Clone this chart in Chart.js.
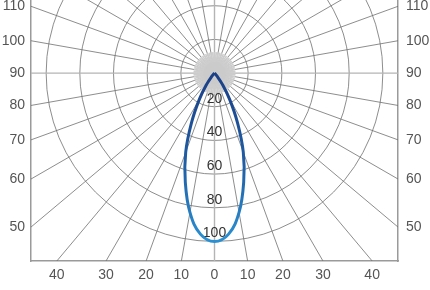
<!DOCTYPE html>
<html>
<head>
<meta charset="utf-8">
<script src="https://cdn.jsdelivr.net/npm/chart.js@4"></script>
<style>
  body { margin: 0; background: #fff; }
</style>
</head>
<body>
<canvas id="chart" width="430" height="290"></canvas>
<script>
// Light distribution (angle from nadir, % intensity)
const angles = [0, 5, 10, 15, 20, 25, 30, 35, 40, 45];
const intensity = [100, 96, 84, 67, 50, 32, 18, 8, 2, 0];

// Axis labels (angles) and ring labels
const bottomLabels = [-40, -30, -20, -10, 0, 10, 20, 30, 40];
const sideLabels = [110, 100, 90, 80, 70, 60, 50];
const ringLabels = [20, 40, 60, 80, 100];

// Plot extents in intensity units
const xMax = 109;
const yTop = 43.4;
const yBottom = -111.6;

const rad = d => d * Math.PI / 180;

// Build the curve: left side from tip down to nadir, then right side back up
const curve = [];
for (let i = angles.length - 1; i > 0; i--) {
    curve.push({ x: -intensity[i] * Math.sin(rad(angles[i])), y: -intensity[i] * Math.cos(rad(angles[i])) });
}
for (let i = 0; i < angles.length; i++) {
    curve.push({ x: intensity[i] * Math.sin(rad(angles[i])), y: -intensity[i] * Math.cos(rad(angles[i])) });
}

// Polar grid drawn behind the curve
const polarGrid = {
    id: 'polarGrid',
    beforeDatasetsDraw(chart) {
        const { ctx, chartArea: a, scales: { x, y } } = chart;
        const cx = x.getPixelForValue(0);
        const cy = y.getPixelForValue(0);
        const k = x.getPixelForValue(100) - cx;
        ctx.save();
        ctx.beginPath();
        ctx.rect(a.left, a.top, a.width, a.height);
        ctx.clip();

        // rings
        ctx.strokeStyle = '#707070';
        ctx.lineWidth = 0.8;
        ringLabels.forEach(r => {
            ctx.beginPath();
            ctx.arc(cx, cy, r / 100 * k, 0, 2 * Math.PI);
            ctx.stroke();
        });

        // spokes every 10 degrees
        for (let d = 0; d < 360; d += 10) {
            const main = d % 90 === 0;
            ctx.strokeStyle = main ? '#b4b4b4' : '#707070';
            ctx.lineWidth = main ? 1.4 : 0.8;
            ctx.beginPath();
            ctx.moveTo(cx, cy);
            ctx.lineTo(cx + 600 * Math.sin(rad(d)), cy + 600 * Math.cos(rad(d)));
            ctx.stroke();
        }

        // grey star near the centre
        ctx.strokeStyle = '#cdcdcd';
        ctx.lineWidth = 1.6;
        for (let d = 0; d < 360; d += 5) {
            ctx.beginPath();
            ctx.moveTo(cx, cy);
            ctx.lineTo(cx + 21 * Math.sin(rad(d)), cy + 21 * Math.cos(rad(d)));
            ctx.stroke();
        }
        ctx.fillStyle = '#cbcbcb';
        ctx.beginPath();
        ctx.arc(cx, cy, 11, 0, 2 * Math.PI);
        ctx.fill();

        // ring labels
        ctx.fillStyle = '#333';
        ctx.font = '14px "Liberation Sans", Arial, sans-serif';
        ctx.textAlign = 'center';
        ctx.textBaseline = 'bottom';
        ringLabels.forEach(v => {
            ctx.fillText(String(v), cx, y.getPixelForValue(-v) - 1);
        });
        ctx.restore();
    }
};

const tickFont = { family: '"Liberation Sans", Arial, sans-serif', size: 14 };
const border = { color: '#9a9a9a', width: 1.5 };

function noPadding(s) {
    s.paddingTop = 0;
    s.paddingBottom = 0;
    s.paddingLeft = 0;
    s.paddingRight = 0;
}

function sideAxis(position, width, pad) {
    return {
        type: 'linear',
        position: position,
        min: yBottom,
        max: yTop,
        grid: { display: false, drawTicks: false },
        border: border,
        afterBuildTicks: s => {
            s.ticks = sideLabels.map(l => ({ value: xMax * Math.tan(rad(l - 90)) }));
        },
        afterFit: s => { s.width = width; noPadding(s); },
        ticks: {
            autoSkip: false,
            padding: pad,
            color: '#555',
            font: tickFont,
            callback: (v, i) => String(sideLabels[i])
        }
    };
}

const ctx = document.getElementById('chart');
const chart = new Chart(ctx, {
    type: 'scatter',
    data: {
        datasets: [{
            data: curve,
            showLine: true,
            pointRadius: 0,
            tension: 0.4,
            borderWidth: 3,
            borderColor: c => {
                const area = c.chart.chartArea;
                if (!area) return '#1d4f91';
                const g = c.chart.ctx.createLinearGradient(0, c.chart.scales.y.getPixelForValue(0), 0, c.chart.scales.y.getPixelForValue(-100));
                g.addColorStop(0, '#1b3f86');
                g.addColorStop(0.55, '#1f5fa6');
                g.addColorStop(1, '#2b90d2');
                return g;
            }
        }]
    },
    options: {
        responsive: false,
        animation: false,
        layout: { padding: 0 },
        plugins: { legend: { display: false }, tooltip: { enabled: false } },
        scales: {
            x: {
                type: 'linear',
                min: -xMax,
                max: xMax,
                grid: { display: false, drawTicks: false },
                border: border,
                afterBuildTicks: s => {
                    s.ticks = bottomLabels.map(a => ({ value: -yBottom * Math.tan(rad(a)) }));
                },
                afterFit: s => { s.height = 29; noPadding(s); },
                ticks: {
                    autoSkip: false,
                    maxRotation: 0,
                    padding: 6,
                    color: '#555',
                    font: tickFont,
                    callback: (v, i) => String(Math.abs(bottomLabels[i]))
                }
            },
            y: sideAxis('left', 31, 6),
            y2: sideAxis('right', 32, 8)
        }
    },
    plugins: [polarGrid]
});
</script>
</body>
</html>
